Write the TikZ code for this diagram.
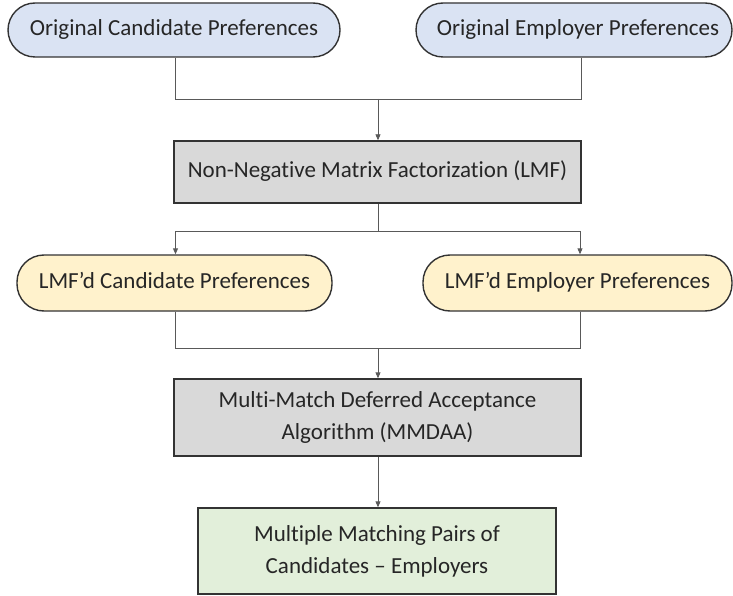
\documentclass[tikz,border=0pt]{standalone}
\usepackage{fontspec}
\setmainfont{Carlito}[Ligatures={NoCommon}, RawFeature={-liga;-calt;-dlig}]
\usetikzlibrary{arrows.meta}
\definecolor{inputfill}{HTML}{DAE3F3}
\definecolor{nmffill}{HTML}{FFF2CC}
\definecolor{procfill}{HTML}{D9D9D9}
\definecolor{outfill}{HTML}{E2EFDA}
\definecolor{edgecol}{HTML}{333333}
\definecolor{linkcol}{HTML}{595959}
\tikzset{
  boxbase/.style={draw=edgecol, line width=1.4pt, inner sep=0pt, align=center,
    font=\fontsize{23}{32}\selectfont, text=black!85},
  oneline/.style={text height=16pt, text depth=5pt},
  pill/.style={boxbase, oneline, rectangle, rounded corners=27pt},
  procbox/.style={boxbase, rectangle, fill=procfill},
  link/.style={draw=linkcol, line width=0.9pt},
  arrowlink/.style={link, -{Triangle[length=6pt,width=5pt]}},
}
\begin{document}
\begin{tikzpicture}[x=1pt,y=-1pt]
  \useasboundingbox (0,0) rectangle (733,596);

  % source preferences
  \node[pill, fill=inputfill, minimum width=332pt, minimum height=54pt]
    (candorig) at (174,30) {Original Candidate Preferences};
  \node[pill, fill=inputfill, minimum width=316pt, minimum height=54pt]
    (emporig) at (574,30) {\hspace*{8pt}Original Employer Preferences};

  % factorization step
  \node[procbox, oneline, minimum width=407pt, minimum height=62pt]
    (nmf) at (377.5,172) {Non-Negative Matrix Factorization (LMF)};

  % factorized preferences
  \node[pill, fill=nmffill, minimum width=315pt, minimum height=56pt]
    (candnmf) at (174.5,283) {LMF’d Candidate Preferences};
  \node[pill, fill=nmffill, minimum width=309pt, minimum height=56pt]
    (empnmf) at (577.5,283) {LMF’d Employer Preferences};

  % matching algorithm
  \node[procbox, minimum width=407pt, minimum height=77pt]
    (mmdaa) at (377.5,417.5) {Multi-Match Deferred Acceptance\\Algorithm (MMDAA)};

  % result
  \node[boxbase, rectangle, fill=outfill, minimum width=358pt, minimum height=86pt]
    (pairs) at (377,551) {Multiple Matching Pairs of\\Candidates – Employers};

  % junction points
  \coordinate (mergeA) at (378,99);
  \coordinate (splitB) at (378,231);
  \coordinate (mergeC) at (378,348);

  % connectors
  \draw[link] ([xshift=1pt]candorig.south) |- (mergeA);
  \draw[link] ([xshift=7pt]emporig.south) |- (mergeA);
  \draw[arrowlink] (mergeA) -- (nmf.north -| mergeA);

  \draw[link] (nmf.south -| splitB) -- (splitB);
  \draw[arrowlink] (splitB) -| ([xshift=1pt]candnmf.north);
  \draw[arrowlink] (splitB) -| ([xshift=2.5pt]empnmf.north);

  \draw[link] ([xshift=1pt]candnmf.south) |- (mergeC);
  \draw[link] ([xshift=2.5pt]empnmf.south) |- (mergeC);
  \draw[arrowlink] (mergeC) -- (mmdaa.north -| mergeC);

  \draw[arrowlink] (mmdaa.south -| mergeC) -- (pairs.north -| mergeC);
\end{tikzpicture}
\end{document}
